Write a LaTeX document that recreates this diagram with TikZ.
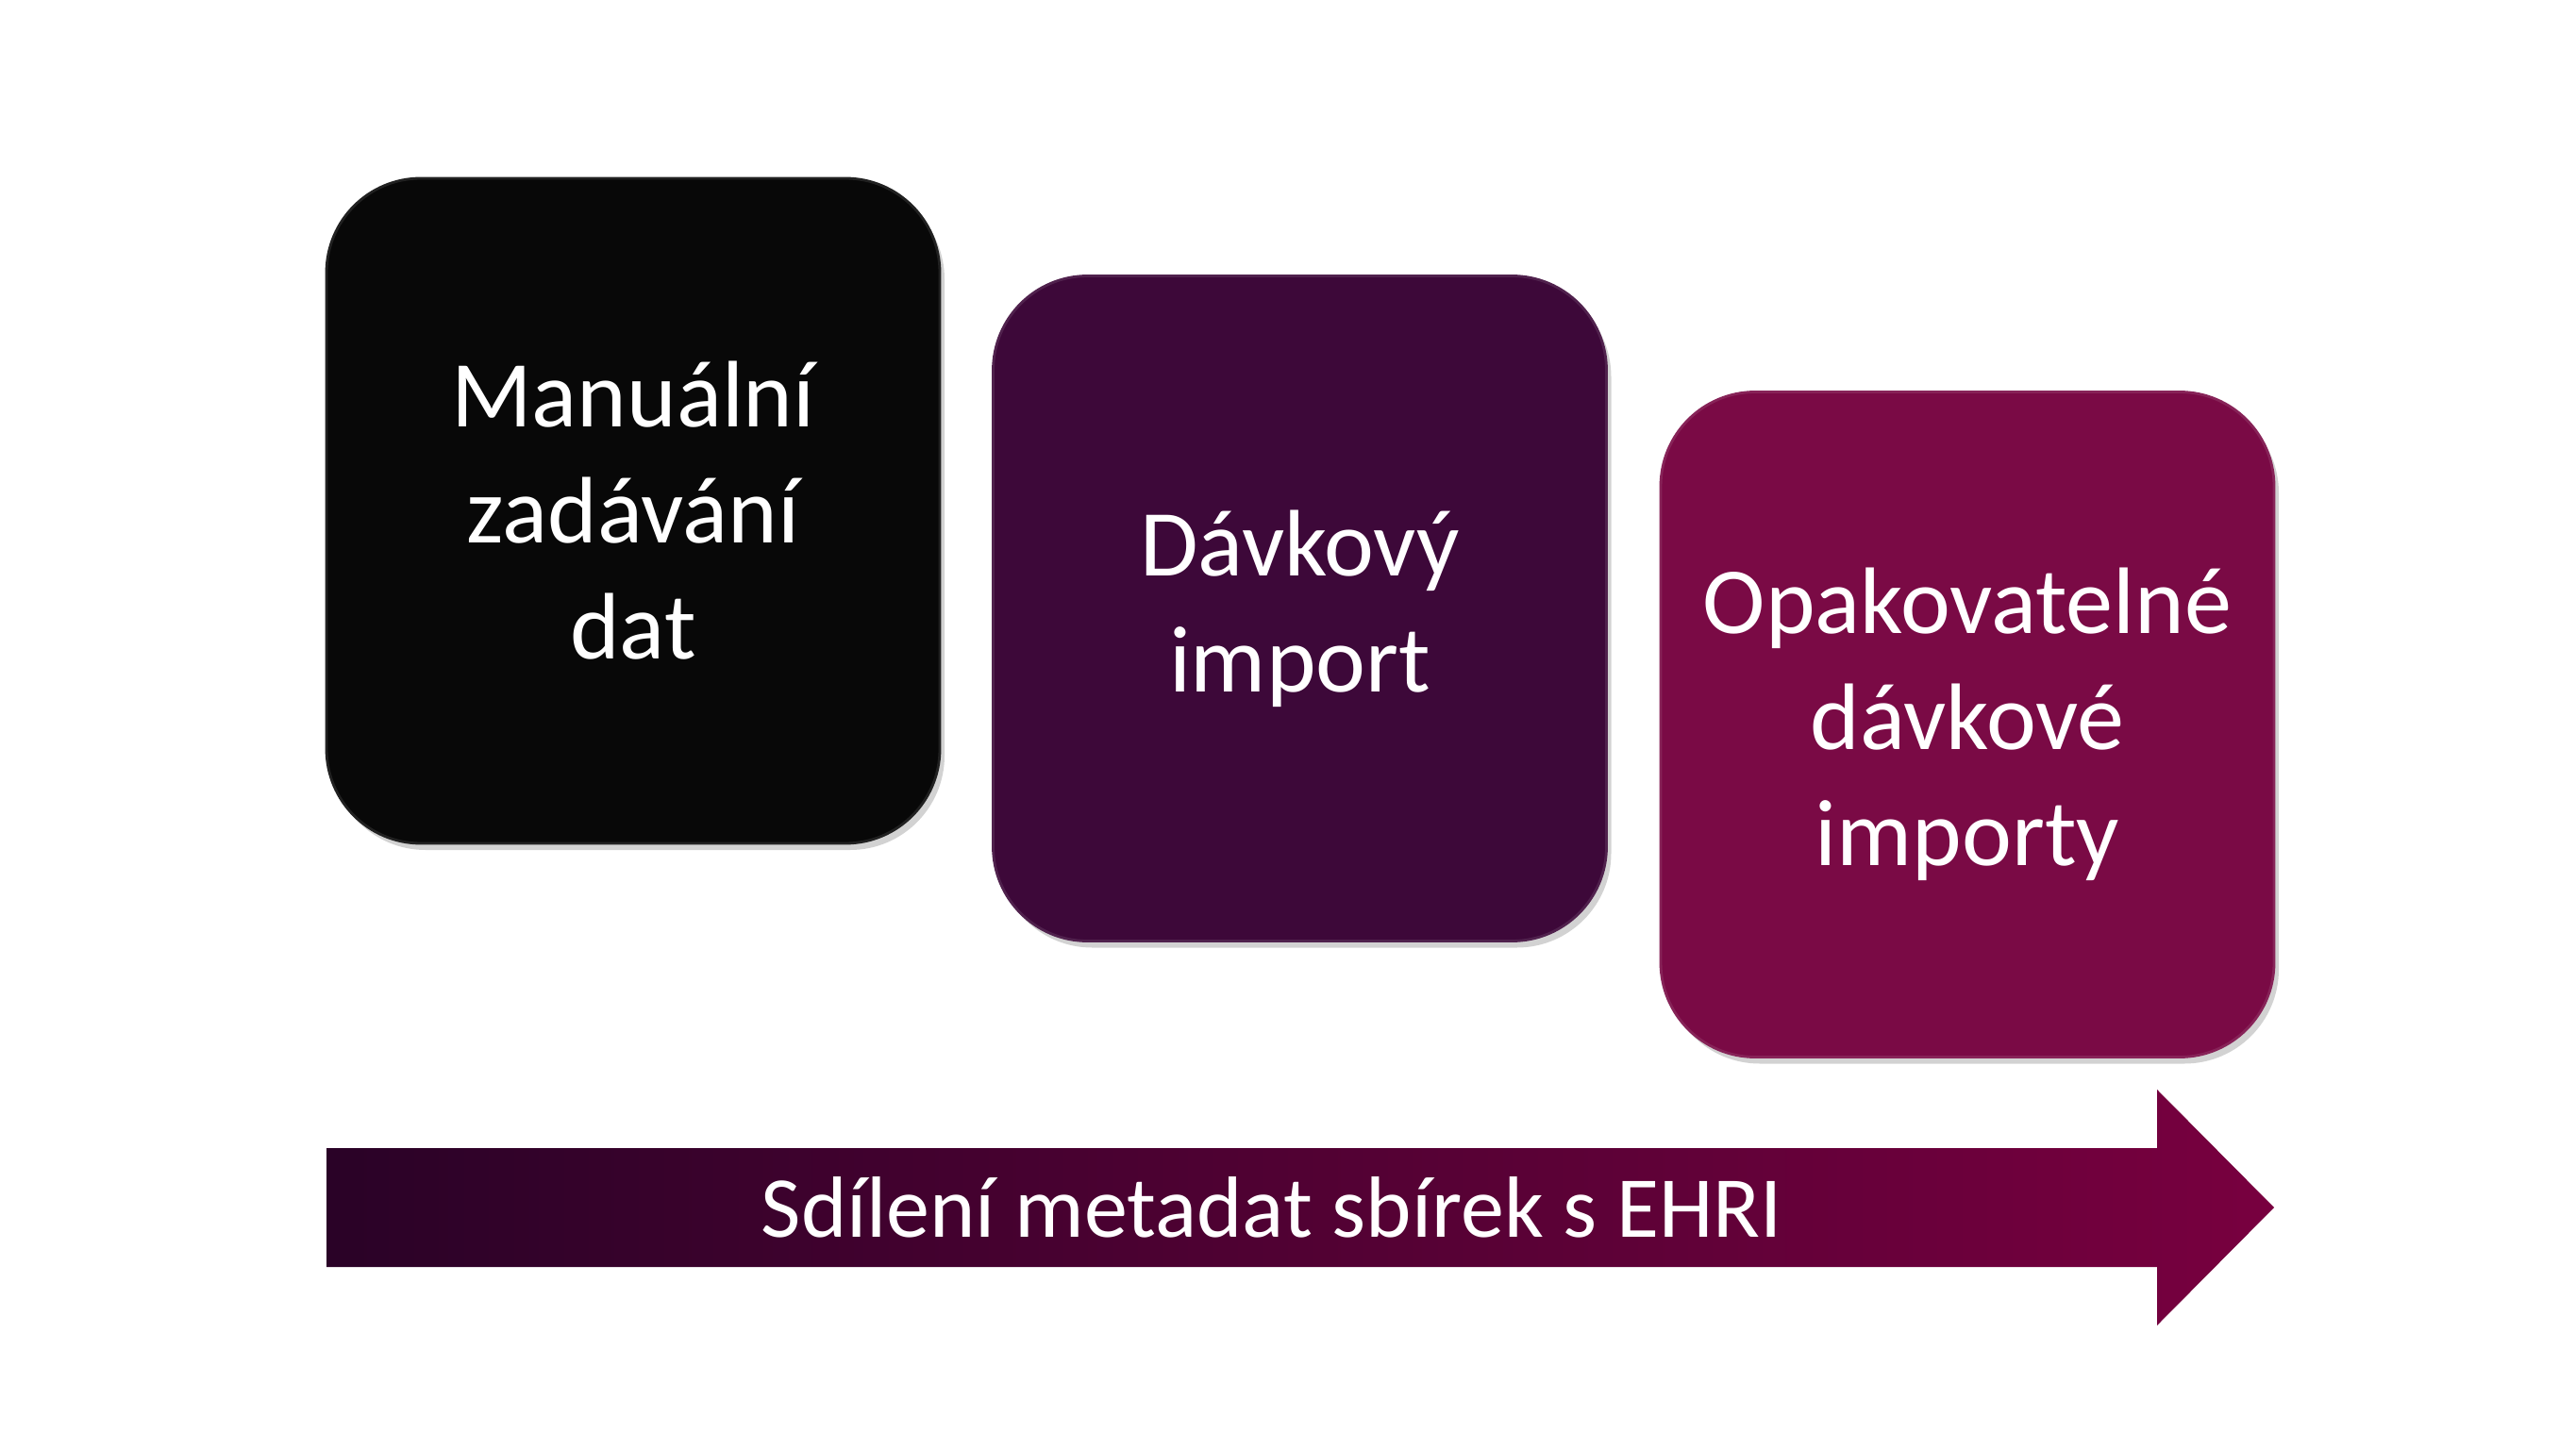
\documentclass[tikz,border=0pt]{standalone}
\usepackage{fontspec}
\setmainfont{Carlito}
\usetikzlibrary{shadows}

\definecolor{manualfill}{HTML}{080808}
\definecolor{batchfill}{HTML}{3D0839}
\definecolor{repeatfill}{HTML}{7A0A45}
\definecolor{arrowdark}{HTML}{2A0227}
\definecolor{arrowlight}{HTML}{78003F}

\tikzset{
	stepbox/.style={draw=#1!90!white, line width=0.8pt, fill=#1, rounded corners=1cm,
		minimum width=6.5cm, minimum height=7.05cm, align=center, text=white,
		font=\fontsize{28.5}{35}\selectfont,
		drop shadow={shadow xshift=0.05cm, shadow yshift=-0.07cm, opacity=0.35}},
	flowtext/.style={text=white, font=\fontsize{26.2}{31}\selectfont}
}

\newcommand{\ehristep}[5]{
	\node[stepbox=#4] (#1) at (#2, #3) {#5};
}

\begin{document}
\begin{tikzpicture}
\useasboundingbox[fill=white] (0,0) rectangle (27.3,-15.36);

\pgfmathsetmacro{\arLeft}{3.46}
\pgfmathsetmacro{\arBase}{22.86}
\pgfmathsetmacro{\arTip}{24.10}
\pgfmathsetmacro{\arMid}{-12.80}
\pgfmathsetmacro{\arBody}{0.63}
\pgfmathsetmacro{\arHead}{1.25}

\ehristep{manual}{6.71}{-5.415}{manualfill}{Manuální\\zadávání\\dat}
\ehristep{batch}{13.775}{-6.45}{batchfill}{Dávkový\\import}
\ehristep{repeated}{20.85}{-7.68}{repeatfill}{Opakovatelné\\dávkové\\importy}

\shade[left color=arrowdark, right color=arrowlight]
	(\arLeft, \arMid+\arBody) -- (\arBase, \arMid+\arBody) -- (\arBase, \arMid+\arHead)
	-- (\arTip, \arMid) -- (\arBase, \arMid-\arHead) -- (\arBase, \arMid-\arBody)
	-- (\arLeft, \arMid-\arBody) -- cycle;
\node[flowtext] (sharing) at (13.48, \arMid) {Sdílení metadat sbírek s EHRI};
\end{tikzpicture}
\end{document}
